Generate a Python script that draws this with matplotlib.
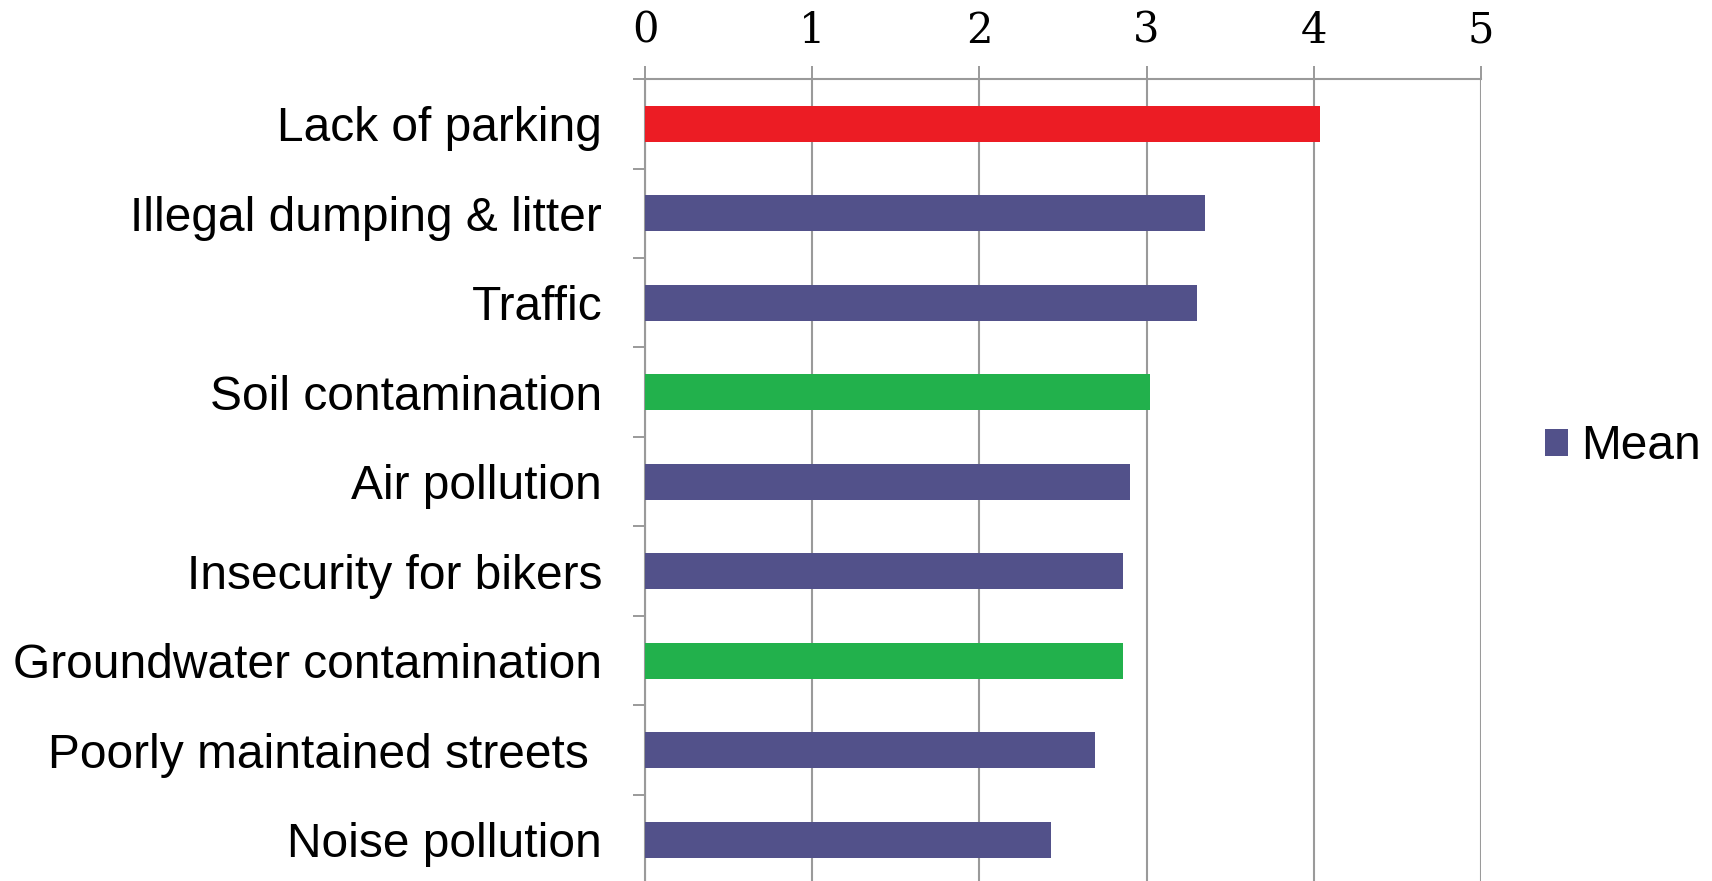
import matplotlib
matplotlib.use("Agg")
import matplotlib.pyplot as plt
from matplotlib.patches import Patch

# ---- data ----
CATEGORIES = [
    "Lack of parking",
    "Illegal dumping & litter",
    "Traffic",
    "Soil contamination",
    "Air pollution",
    "Insecurity for bikers",
    "Groundwater contamination",
    "Poorly maintained streets ",
    "Noise pollution",
]
MEANS = [4.04, 3.35, 3.30, 3.02, 2.90, 2.86, 2.86, 2.69, 2.43]
BAR_COLORS = ["#EC1C24", "#52518A", "#52518A", "#22B14C", "#52518A",
              "#52518A", "#22B14C", "#52518A", "#52518A"]
X_TICKS = [0, 1, 2, 3, 4, 5]
LEGEND_LABEL = "Mean"
LEGEND_COLOR = "#52518A"

GRID_GRAY = "#9A9A9A"

fig = plt.figure(figsize=(17.12, 8.81), dpi=100)
ax = fig.add_axes([0.3768, -0.0039, 0.4882, 0.9142])

ypos = list(range(len(CATEGORIES)))
ax.barh(ypos, MEANS, height=0.4, color=BAR_COLORS, zorder=3)

ax.set_xlim(0, 5)
ax.set_ylim(len(CATEGORIES) - 0.5, -0.5)

# x axis on top, serif digits
ax.xaxis.tick_top()
ax.set_xticks(X_TICKS)
ax.set_xticklabels([str(t) for t in X_TICKS], fontfamily="DejaVu Serif",
                   fontsize=30)
ax.tick_params(axis="x", length=9.5, width=1.4, color=GRID_GRAY, pad=10)
ax.grid(axis="x", color=GRID_GRAY, linewidth=1.5, zorder=0)

# category labels, tick marks between categories
ax.set_yticks(ypos)
ax.set_yticklabels(CATEGORIES, fontfamily="Liberation Sans", fontsize=34.5)
ax.tick_params(axis="y", which="major", length=0, pad=31)
ax.set_yticks([y - 0.5 for y in range(len(CATEGORIES) + 1)], minor=True)
ax.tick_params(axis="y", which="minor", length=8.6, width=1.4,
               color=GRID_GRAY)

for side in ("right", "bottom"):
    ax.spines[side].set_visible(False)
for side in ("left", "top"):
    ax.spines[side].set_color(GRID_GRAY)
    ax.spines[side].set_linewidth(1.5)

handle = Patch(facecolor=LEGEND_COLOR, edgecolor="none")
fig.legend([handle], [LEGEND_LABEL], loc="center left",
           bbox_to_anchor=(1545 / 1712, 1 - 447 / 881),
           frameon=False, handlelength=0.47, handleheight=0.47,
           handletextpad=0.28, borderpad=0, borderaxespad=0,
           prop={"family": "Liberation Sans", "size": 34.5})

fig.savefig("out.png", dpi=100)
